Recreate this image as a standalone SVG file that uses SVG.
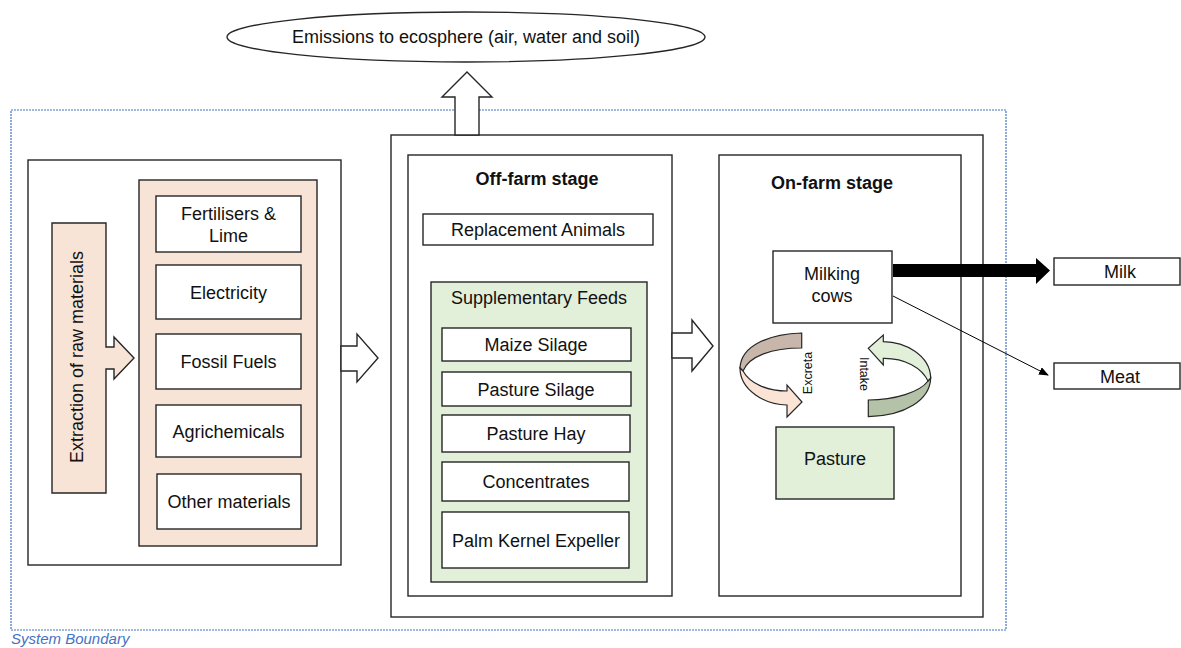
<svg xmlns="http://www.w3.org/2000/svg" width="1181" height="648" viewBox="0 0 1181 648">
<style>
.bx{fill:#fff;stroke:#262626;stroke-width:1.4}
.peach{fill:#F8E4D6;stroke:#262626;stroke-width:1.4}
.green{fill:#E2EFD9;stroke:#262626;stroke-width:1.4}
.t{font-family:"Liberation Sans",Arial,sans-serif;font-size:18px;fill:#111;text-anchor:middle}
.b{font-weight:bold;font-size:18px}
.s{font-size:12.5px}
.blk{fill:#fff;stroke:#262626;stroke-width:1.4}
</style>
<defs>
<marker id="ah" markerWidth="10" markerHeight="8" refX="9" refY="4" orient="auto" markerUnits="userSpaceOnUse">
<path d="M0,0 L10,4 L0,8 Z" fill="#000"/>
</marker>
</defs>
<rect width="1181" height="648" fill="#fff"/>

<g id="system-boundary">
<rect x="11" y="110" width="995" height="520" fill="none" stroke="#4472C4" stroke-width="1.2" stroke-dasharray="2 1"/>
<text x="11" y="644" style="font-family:'Liberation Sans',Arial,sans-serif;font-size:15px;font-style:italic;fill:#4472C4">System Boundary</text>
</g>

<g id="emissions">
<ellipse cx="466" cy="37" rx="239" ry="25" class="bx"/>
<text x="466" y="43" class="t">Emissions to ecosphere (air, water and soil)</text>
</g>

<g id="left-box">
<rect x="28" y="160" width="313" height="405" class="bx"/>
</g>
<g id="extraction">
<path d="M52,223 H106 V347 H114 V337 L134,358 L114,379 V369 H106 V493 H52 Z" class="peach"/>
<text transform="translate(83,357) rotate(-90)" class="t">Extraction of raw materials</text>
</g>
<g id="inputs">
<rect x="139" y="180" width="178" height="366" class="peach"/>
</g>
<g id="fertilisers"><rect x="156" y="196" width="145" height="56" class="bx"/><text x="228.5" y="220" class="t">Fertilisers &amp;</text><text x="228.5" y="242" class="t">Lime</text></g>
<g id="electricity"><rect x="156" y="265" width="145" height="54" class="bx"/><text x="228.5" y="298.5" class="t">Electricity</text></g>
<g id="fossil"><rect x="156" y="334" width="145" height="55" class="bx"/><text x="228.5" y="368" class="t">Fossil Fuels</text></g>
<g id="agrichemicals"><rect x="156" y="405" width="145" height="52" class="bx"/><text x="228.5" y="437.5" class="t">Agrichemicals</text></g>
<g id="other"><rect x="157" y="474" width="144" height="55" class="bx"/><text x="229" y="508" class="t">Other materials</text></g>

<g id="main-box">
<rect x="391" y="135" width="592" height="482" class="bx"/>
</g>

<g id="off-farm">
<rect x="408" y="155" width="264" height="441" class="bx"/>
<text x="537" y="185" class="t b">Off-farm stage</text>
</g>
<g id="replacement"><rect x="423" y="214" width="230" height="31" class="bx"/><text x="538" y="236" class="t">Replacement Animals</text></g>
<g id="supp-feeds"><rect x="431" y="282" width="216" height="300" class="green"/><text x="539" y="304" class="t">Supplementary Feeds</text></g>
<g id="maize"><rect x="442" y="328" width="189" height="33" class="bx"/><text x="536" y="351" class="t">Maize Silage</text></g>
<g id="pasture-silage"><rect x="442" y="372" width="189" height="34" class="bx"/><text x="536" y="395.5" class="t">Pasture Silage</text></g>
<g id="pasture-hay"><rect x="442" y="415" width="188" height="37" class="bx"/><text x="536" y="440" class="t">Pasture Hay</text></g>
<g id="concentrates"><rect x="442" y="462" width="187" height="39" class="bx"/><text x="536" y="488" class="t">Concentrates</text></g>
<g id="pke"><rect x="442" y="512" width="187" height="56" class="bx"/><text x="536" y="546.5" class="t">Palm Kernel Expeller</text></g>

<g id="on-farm">
<rect x="719" y="155" width="242" height="441" class="bx"/>
<text x="832" y="189" class="t b">On-farm stage</text>
</g>
<g id="milking-cows"><rect x="773" y="251" width="119" height="72" class="bx"/><text x="832" y="280" class="t">Milking</text><text x="832" y="302" class="t">cows</text></g>
<g id="pasture"><rect x="776" y="427" width="118" height="72" class="green"/><text x="835" y="465" class="t">Pasture</text></g>

<g id="milk"><rect x="1054" y="258" width="126" height="27" class="bx"/><text x="1120" y="278" class="t">Milk</text></g>
<g id="meat"><rect x="1054" y="363" width="126" height="26" class="bx"/><text x="1120" y="383" class="t">Meat</text></g>

<g id="connectors">
<path d="M455,135 V97 H442 L467,72 L492,97 H479 V135 Z" class="blk"/>
<path d="M341,346 H357 V334 L378,358 L357,382 V371 H341 Z" class="blk"/>
<path d="M672,333 H692 V320 L713,346 L692,371 V358 H672 Z" class="blk"/>
<path d="M893,264 H1036 V258 L1050,270.5 L1036,284 V277 H893 Z" fill="#000"/>
<line x1="893" y1="296" x2="1048" y2="375" stroke="#000" stroke-width="1" marker-end="url(#ah)"/>
<path d="M801.7,333 C770,334 741,345 740,368 L743,371 C749,356 772,348 801.7,348 Z" fill="#C9B6AA" stroke="#262626" stroke-width="1.2"/>
<path d="M740,368 C740,390 765,405 787,405 L787,417 L802,402 L787,385 L787,391 C768,391 750,384 743,371 Z" fill="#FBE4D6" stroke="#262626" stroke-width="1.2"/>
<text transform="translate(812,373) rotate(-90)" class="t s">Excreta</text>
<path d="M930.7,378 C930,400 905,416 868.3,416.7 L868.3,400 C895,400 920,392 928,381 Z" fill="#B4C2A8" stroke="#262626" stroke-width="1.2"/>
<path d="M883.3,341.7 V335 L868.3,348.3 L883.3,365 V358.3 C905,358 922,368 928,381 L930.7,378 C930,355 905,342 883.3,341.7 Z" fill="#E2EFD9" stroke="#262626" stroke-width="1.2"/>
<text transform="translate(860,374) rotate(90)" class="t s">Intake</text>
</g>
</svg>
